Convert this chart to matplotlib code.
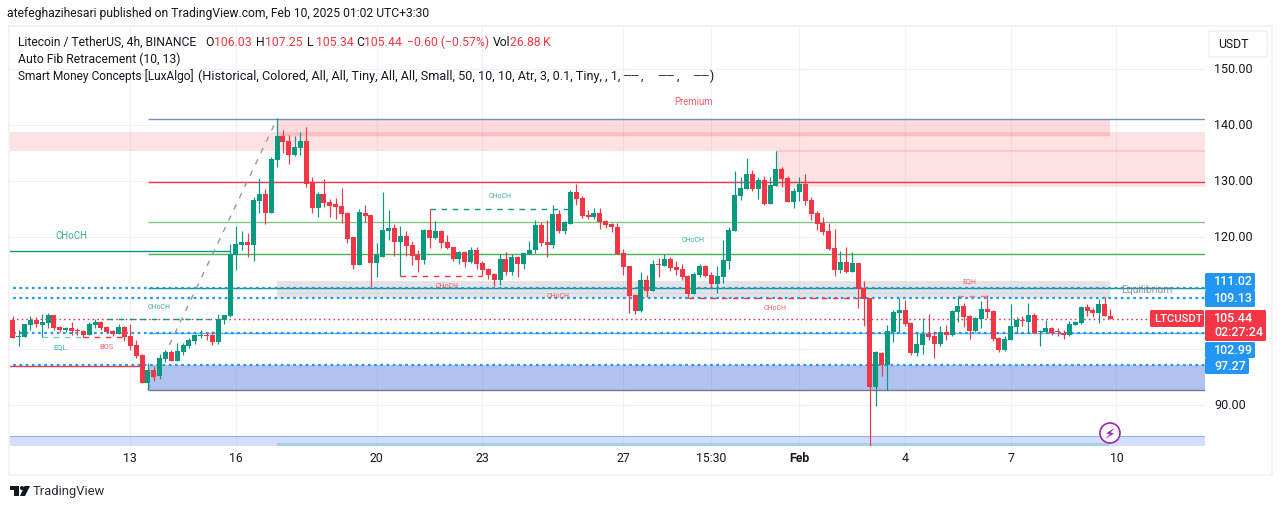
import numpy as np
import matplotlib
matplotlib.use("agg")
import matplotlib.pyplot as plt
from matplotlib.patches import Rectangle, FancyBboxPatch, Polygon, Circle

plt.rcParams['font.family'] = ['Roboto', 'DejaVu Sans']

# 4h candles, LTCUSDT
opens = [105.23,102.25,102.25,104.34,105.23,104.34,104.7,106.12,103.98,103.45,
103.81,103.45,103.27,102.56,104.34,104.88,103.98,103.27,102.73,103.98,
102.38,100.77,98.98,93.98,96.3,95.23,98.27,99.52,97.91,99.52,
100.59,101.48,102.38,102.56,102.56,101.3,105.23,105.95,116.84,118.63,
119.16,118.63,126.48,127.73,124.34,133.81,138.09,137.2,134.7,135.95,
137.2,129.7,125.23,127.73,126.31,125.95,125.59,124.34,120.06,115.06,
124.34,123.98,115.41,116.48,121.13,121.66,119.16,120.23,118.63,116.84,
115.95,121.31,119.88,121.13,119.16,118.27,116.13,117.38,115.59,117.73,
115.41,114.34,113.45,112.38,116.13,113.81,116.48,115.23,117.02,117.73,
122.2,119.16,118.63,124.16,121.13,122.38,128.09,127.02,123.98,123.63,
124.34,122.91,122.38,121.84,117.2,114.88,109.7,106.84,112.37,110.41,
115.23,114.87,116.12,114.69,114.33,113.08,109.87,113.26,114.87,113.26,
111.66,112.91,115.76,121.12,127.37,128.62,131.3,128.62,130.23,125.94,
129.16,132.19,130.58,126.3,128.08,129.51,126.66,124.33,122.55,121.12,
118.08,114.16,115.58,113.8,115.41,110.94,109.16,93.26,99.33,97.19,
103.08,106.48,107.01,104.69,99.34,100.77,102.73,102.37,100.95,103.09,
102.55,106.66,107.73,105.95,103.27,105.41,107.2,106.84,102.02,99.87,
101.66,104.02,105.23,104.87,106.12,103.09,103.09,103.8,103.27,102.91,
102.55,104.34,104.7,107.55,107.02,106.48,108.09,106.03]
closes = [102.02,102.44,104.52,105.23,104.52,104.88,106.12,103.81,103.45,103.75,
103.27,103.27,102.56,104.52,104.88,103.81,103.09,102.73,103.98,102.19,
100.59,98.8,93.98,96.3,95.05,98.45,99.52,97.91,99.7,100.77,
101.66,102.56,102.56,102.38,101.3,105.41,106.12,117.02,118.81,119.16,
118.63,126.66,127.73,124.34,133.98,138.09,137.02,134.7,136.13,137.2,
129.52,125.23,127.73,126.13,125.59,125.41,124.16,119.7,115.06,124.52,
123.81,115.41,116.84,121.31,121.66,119.16,120.23,118.45,116.66,115.95,
121.31,119.88,121.13,118.98,118.09,116.13,117.38,115.59,117.73,115.23,
114.16,113.27,112.38,116.13,113.81,116.48,115.23,117.2,117.73,122.2,
118.98,118.63,124.16,121.13,122.73,128.09,126.84,123.81,123.63,124.34,
122.73,122.2,121.84,117.02,114.7,109.52,106.84,112.38,110.41,115.23,
115.05,116.12,114.51,114.16,112.91,109.87,113.44,114.87,113.08,111.66,
113.08,115.94,121.3,127.55,128.8,131.3,128.62,130.23,125.94,129.33,
132.19,130.41,126.3,128.26,129.51,126.48,124.16,122.37,120.94,117.91,
114.16,115.58,113.8,115.41,110.76,108.98,93.26,99.51,97.19,103.26,
106.66,107.01,104.51,99.33,100.95,102.73,102.2,100.95,103.09,102.55,
106.84,107.73,105.77,103.27,105.59,107.2,106.66,101.84,99.87,101.84,
104.16,105.23,105.05,106.12,102.91,103.27,103.8,102.91,103.09,102.55,
104.52,104.87,107.55,106.84,106.48,108.09,105.95,105.44]
highs = [105.95,103.45,104.52,105.95,105.83,106.3,106.42,106.12,104.16,103.92,
104.88,103.81,103.45,104.88,105.41,105.05,104.16,103.45,104.52,104.16,
104.52,101.66,99.16,97.5,97.02,99.16,99.88,99.88,101.13,101.13,
102.02,102.73,103.45,102.91,103.27,106.3,106.12,118.81,122.02,121.13,
120.77,127.2,130.59,128.63,134.34,141.3,139.16,138.27,138.09,138.81,
139.7,130.77,128.09,130.41,126.84,127.02,128.81,124.52,120.06,125.06,
125.77,123.98,118.98,128.09,124.88,122.38,122.02,121.13,119.34,117.73,
121.48,125.06,122.91,121.31,120.41,118.27,117.56,117.56,118.27,118.27,
115.77,114.52,113.63,117.02,117.38,117.02,116.66,117.38,119.34,123.09,
122.73,123.09,125.77,124.88,122.91,128.45,129.52,127.38,124.88,125.23,
125.23,123.09,122.55,122.55,117.91,114.88,109.88,113.81,113.26,115.94,
116.24,116.95,116.48,115.76,115.23,113.26,113.8,115.23,115.05,113.8,
114.87,119.51,121.83,131.83,130.76,134.16,132.01,130.76,130.94,130.76,
135.41,132.55,130.94,128.8,130.76,131.3,127.19,124.69,123.62,122.55,
121.48,117.55,118.26,117.37,115.41,112.19,109.16,99.69,99.51,104.33,
107.01,109.16,108.8,104.87,103.09,105.59,106.3,103.27,104.16,104.34,
107.02,109.52,108.27,106.12,105.77,108.62,109.7,107.02,102.2,102.37,
108.09,105.83,105.95,108.27,106.48,103.45,105.23,103.98,103.8,103.45,
105.05,105.05,107.73,108.09,107.37,108.98,109.34,107.25]
lows = [102.02,100.59,102.25,103.45,103.92,102.13,103.81,103.45,103.03,103.15,
102.56,102.56,102.13,102.56,103.81,103.45,102.85,102.38,102.73,101.48,
99.88,98.45,93.98,92.73,94.34,94.7,97.73,97.91,97.91,98.98,
100.23,100.95,102.02,101.66,100.77,100.95,104.52,105.83,114.16,117.73,
116.48,115.77,124.34,122.38,124.34,132.56,135.06,133.09,134.52,134.7,
128.98,124.34,123.63,125.41,123.63,123.27,122.55,118.98,114.34,115.06,
122.73,111.13,112.91,116.48,119.52,116.66,113.03,116.66,115.06,113.81,
115.23,118.09,119.7,118.09,117.91,115.77,115.23,114.7,115.41,114.34,
113.09,112.55,111.31,111.48,113.27,113.27,112.91,114.34,117.02,117.2,
118.45,116.48,118.09,120.77,120.59,122.38,125.77,123.45,123.27,123.27,
121.48,121.66,120.95,117.02,113.27,106.48,106.31,106.66,109.33,110.41,
112.91,114.87,113.98,113.26,112.37,109.16,109.87,112.91,112.91,110.94,
110.05,111.84,114.33,121.12,126.66,128.62,128.26,126.83,125.76,125.94,
129.16,128.98,126.3,125.23,126.48,125.76,123.08,121.3,120.41,117.73,
113.08,113.62,113.62,113.8,107.37,104.16,82.7,89.87,95.23,92.73,
101.3,103.08,104.16,98.98,98.8,99.16,101.66,98.45,100.59,101.66,
102.37,104.87,103.98,101.84,103.09,103.8,105.53,101.48,99.52,99.7,
101.66,102.91,104.16,102.91,102.91,100.59,102.91,102.55,102.37,101.84,
102.37,104.34,104.52,105.95,105.77,104.7,105.95,105.34]

date_ticks = [20, 38, 62, 80, 104, 119, 134, 152, 170, 188]
date_labels = ['13', '16', '20', '23', '27', '15:30', 'Feb', '4', '7', '10']
price_ticks = [150, 140, 130, 120, 90]
grid_prices = [150, 140, 130, 120, 110, 100, 90]

# zones: x start, x end, price low, price high, colour, alpha
zones = [
    (45, 187, 138.27, 141.13, '#f23645', 0.18),
    (-1, 204, 135.46, 138.8, '#f23645', 0.14),
    (130, 204, 128.95, 135.46, '#f23645', 0.14),
    (45, 187, 109.13, 112.2, '#787b86', 0.20),
    (23, 204, 92.73, 97.27, '#3d68dc', 0.40),
    (-1, 204, 82.73, 84.5, '#2962ff', 0.20),
    (45, 187, 82.73, 83.25, '#26a69a', 0.25),
]
# solid levels: price, x start, x end, colour, width
solid_levels = [
    (141.13, 23, 204, '#7b8ec4', 1.0),
    (129.88, 23, 204, '#f23645', 1.0),
    (122.73, 23, 204, '#81c784', 1.0),
    (117.02, 23, 204, '#4caf50', 1.0),
    (111.02, 23, 204, '#089981', 1.0),
    (102.99, 23, 204, '#64b5f6', 1.0),
    (92.73, 23, 204, '#787b86', 1.0),
    (117.5, -1, 37, '#089981', 1.0),
    (97.0, -1, 21.6, '#f23645', 1.0),
    (84.5, -1, 204, '#90b4fa', 0.8),
]
dotted_levels = [111.02, 109.13, 102.99, 97.27]
last_price = 105.44
# dashed structure: price, x start, x end, colour
dashed_levels = [
    (105.36, 16, 33.5, '#089981'),
    (102.2, 5, 12, '#7fc9bd'),
    (102.2, 12, 19, '#f23645'),
    (125.0, 71, 95, '#089981'),
    (113.03, 66, 80, '#f23645'),
    (109.11, 115, 144, '#f23645'),
    (109.57, 161, 166, '#f77c80'),
]
fib_x = [23, 45]
fib_y = [92.73, 141.13]
# labels: text, x, price, colour, size
labels = [
    ('Premium', 115.9, 144.16, '#f23645', 6.9),
    ('CHoCH', 9.9, 120.2, '#089981', 7),
    ('CHoCH', 24.9, 107.55, '#089981', 5),
    ('EQL', 8, 100.23, '#089981', 5.4),
    ('BOS', 16, 100.23, '#f23645', 5.4),
    ('CHoCH', 74, 111.13, '#f23645', 5),
    ('CHoCH', 83, 127.2, '#089981', 5),
    ('CHoCH', 92.9, 109.34, '#f23645', 5),
    ('CHoCH', 115.9, 119.34, '#089981', 5),
    ('CHoCH', 129.8, 107.2, '#f23645', 5),
    ('EQH', 162.9, 112.0, '#f23645', 5),
    ('Equilibrium', 193.2, 110.6, '#787b86', 7.4),
]

W, H = 1281, 509
UP = '#089981'
DOWN = '#f23645'
TXT = '#131722'

fig = plt.figure(figsize=(W / 100, H / 100), dpi=100)
ax = fig.add_axes([10 / W, (H - 446) / H, 1195 / W, 419 / H])
ax.set_xlim(-0.49, 203.1)
ax.set_ylim(82.73, 157.55)
for s in ax.spines.values():
    s.set_visible(False)
ax.set_xticks(date_ticks)
ax.set_xticklabels([])
ax.set_yticks(grid_prices)
ax.set_yticklabels([])
ax.tick_params(length=0)
ax.grid(color='#f0f3fa', lw=0.9)
ax.set_axisbelow(True)

for x0, x1, lo, hi, col, al in zones:
    ax.add_patch(Rectangle((x0, lo), x1 - x0, hi - lo, fc=col, ec='none', alpha=al, zorder=1))
ax.hlines([135.46], 130, 204, color='#f23645', alpha=0.15, lw=1.5, zorder=1)
ax.hlines([138.27], 45, 187, color='#f23645', alpha=0.2, lw=1, zorder=1)

for p, x0, x1, col, lw in solid_levels:
    ax.hlines(p, x0, x1, color=col, lw=lw, zorder=2)
for p in dotted_levels:
    ax.hlines(p, -1, 204, color='#2196f3', lw=1.6, linestyles=(0, (1.2, 1.6)), zorder=2)
ax.hlines(last_price, -1, 194.5, color=DOWN, lw=1.0, linestyles=(0, (1.2, 2.2)), zorder=2)
for p, x0, x1, col in dashed_levels:
    ax.hlines(p, x0, x1, color=col, lw=1.0, linestyles=(0, (4, 4)), zorder=2)
ax.plot(fib_x, fib_y, color='#9598a1', lw=1, ls=(0, (4, 5)), zorder=2)

# candles
x = np.arange(len(opens))
o, h, l, c = map(np.array, (opens, highs, lows, closes))
up = c >= o
cols = np.where(up, UP, DOWN)
ax.vlines(x, l, h, color=cols, lw=0.85, zorder=3)
ax.bar(x, np.maximum(np.abs(c - o), 0.2), bottom=np.minimum(o, c), width=0.85, color=cols, lw=0, zorder=4)

for txt, lx, ly, col, sz in labels:
    ax.text(lx, ly, txt, color=col, fontsize=sz, ha='center', va='center', alpha=0.8, zorder=5)


def ftext(px, py, s, **kw):
    kw.setdefault('va', 'center')
    kw.setdefault('color', TXT)
    kw.setdefault('fontsize', 8.8)
    return fig.text(px / W, 1 - py / H, s, **kw)


def box(px0, py0, px1, py1, col, ec='none', z=6, r=1.5, lw=1):
    p = FancyBboxPatch((px0 + r, H - py1 + r), px1 - px0 - 2 * r, py1 - py0 - 2 * r,
                       boxstyle='round,pad=%f,rounding_size=%f' % (r, r), fc=col, ec=ec, lw=lw,
                       transform=None, zorder=z)
    fig.add_artist(p)


# frame
fig.add_artist(Rectangle((9, H - 475), 1263, 449, fc='none', ec='#f3f3f3', lw=1.5, transform=None))

# axis labels
for t, lab in zip(date_ticks, date_labels):
    px = 130.3 + 5.87 * (t - 20)
    ftext(px, 459, lab, ha='center', fontweight='bold' if lab == 'Feb' else 'normal')
for p in price_ticks:
    ftext(1214, 125.3 + (140 - p) * 5.6 + 0.2, '%.2f' % p, fontsize=9)

box(1209, 31, 1267, 57, 'white', ec='#eeeeee')
ftext(1218, 45, 'USDT', fontsize=8.8, zorder=7)

# price badges
badges = [(273, 290, 1255, '111.02'), (290, 307, 1255, '109.13'),
          (342, 358, 1255, '102.99'), (358, 374, 1249, '97.27')]
for y0, y1, x1, s in badges:
    box(1205, y0, x1, y1, '#2196f3')
    ftext(1214, (y0 + y1) / 2, s, color='white', fontsize=9, fontweight='medium', zorder=7)
box(1150, 310, 1204, 327, DOWN)
ftext(1154, 319, 'LTCUSDT', color='white', fontsize=8.1, fontweight='medium', zorder=7)
box(1205, 310, 1266, 341, DOWN)
ftext(1214, 319, '105.44', color='white', fontsize=9, fontweight='medium', zorder=7)
ftext(1214, 333, '02:27:24', color='white', fontsize=9, fontweight='medium', zorder=7)

# header and legend
ftext(7, 13, 'atefeghazihesari published on TradingView.com, Feb 10, 2025 01:02 UTC+3:30', fontsize=8.75)
ftext(18, 42, 'Litecoin / TetherUS, 4h, BINANCE', fontsize=8.7)
for px, s, col in [(205, 'O', TXT), (214, '106.03', DOWN), (256, 'H', TXT), (265, '107.25', DOWN),
                   (307.5, 'L', TXT), (316, '105.34', DOWN), (356.6, 'C', TXT), (364, '105.44', DOWN),
                   (406.6, '\u22120.60 (\u22120.57%)', DOWN), (493, 'Vol', TXT), (510, '26.88\u2009K', DOWN)]:
    ftext(px, 42, s, color=col)
ftext(18, 59, 'Auto Fib Retracement (10, 13)')
ftext(18, 76, 'Smart Money Concepts [LuxAlgo]', fontsize=8.6)
ftext(198, 76, '(Historical, Colored, All, All, Tiny, All, All, Small, 50, 10, 10, Atr, 3, 0.1, Tiny, , 1,', fontsize=9.1)
for px in [622, 657, 692]:
    ftext(px, 76, '\u2014\u2014', fontsize=8)
ftext(641, 76, ',')
ftext(677, 76, ',')
ftext(710, 76, ')')

# lightning badge
fig.add_artist(Circle((1110, H - 433), 10, fc='white', ec='#9c27b0', lw=1.2, transform=None, zorder=8))
bolt = [(1115, 427.5), (1106, 433.5), (1110, 434), (1105, 439), (1114, 433.5), (1110.5, 432.5)]
fig.add_artist(Polygon([(a, H - b) for a, b in bolt], fc='#9c27b0', ec='none', transform=None, zorder=9))

# TradingView logo
logo_col = '#131722'
fig.add_artist(Polygon([(10, H - 486), (19, H - 486), (19, H - 496), (14, H - 496), (14, H - 490), (10, H - 490)],
                       fc=logo_col, ec='none', transform=None))
fig.add_artist(Circle((22, H - 488), 2, fc=logo_col, ec='none', transform=None))
fig.add_artist(Polygon([(24.5, H - 486), (30, H - 486), (25, H - 496), (20, H - 496)],
                       fc=logo_col, ec='none', transform=None))
ftext(33, 491, 'TradingView', fontsize=9.4, color='#2a2e39')

fig.savefig('out.png', dpi=100)
